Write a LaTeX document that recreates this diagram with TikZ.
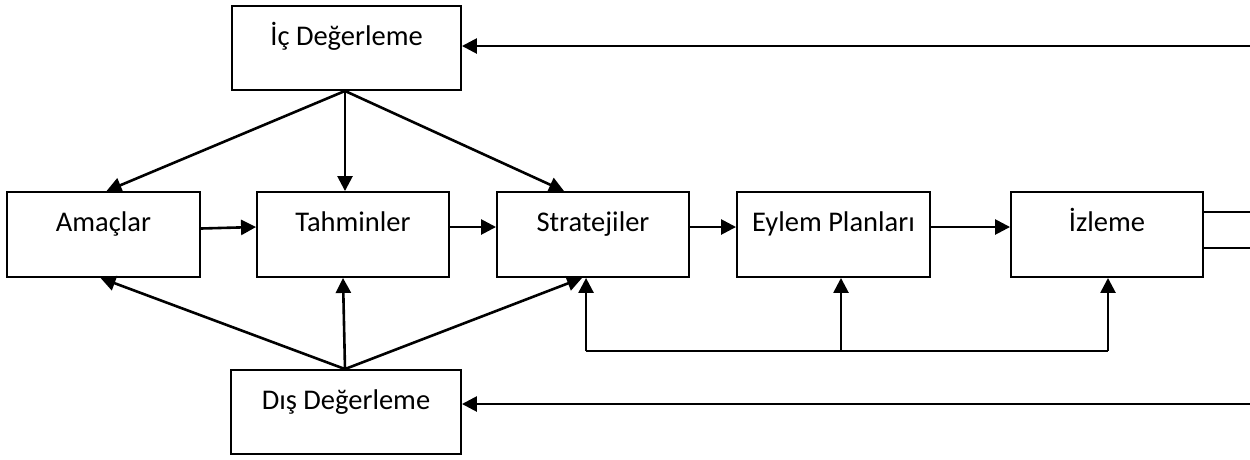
\documentclass[tikz,border=0pt]{standalone}
\usepackage{fontspec}
\setmainfont{Carlito}
\usetikzlibrary{arrows.meta,calc}
\begin{document}
\begin{tikzpicture}[x=1pt,y=-1pt,
  box/.style={draw=black,line width=1.9pt,rectangle,inner sep=0pt,
    minimum height=85pt},
  boxtext/.style={font=\fontsize{28.5}{34}\selectfont,anchor=base,yshift=-40pt,inner sep=0pt},
  arr/.style={line width=2.6pt,-{Triangle[length=15pt,width=15pt]}},
  plain/.style={line width=2.4pt}]
\useasboundingbox (0,0) rectangle (1250,459);
% process boxes
\node[box,minimum width=229pt,minimum height=84pt,label={[boxtext]north:İç Değerleme}] (ic) at (346.5,48) {};
\node[box,minimum width=193pt,label={[boxtext]north:Amaçlar}] (am) at (103.5,234.5) {};
\node[box,minimum width=192pt,label={[boxtext]north:Tahminler}] (ta) at (353,234.5) {};
\node[box,minimum width=192pt,label={[boxtext]north:Stratejiler}] (st) at (593,234.5) {};
\node[box,minimum width=193pt,label={[boxtext]north:Eylem Planları}] (ey) at (833.5,234.5) {};
\node[box,minimum width=192pt,label={[boxtext]north:İzleme}] (iz) at (1107,234.5) {};
\node[box,minimum width=230pt,minimum height=84pt,label={[boxtext]north:Dış Değerleme}] (dis) at (346,412) {};
% helper points
\coordinate (icb) at ($(ic.south)+(-1.5,0)$);
\coordinate (dit) at ($(dis.north)+(-1,0)$);
\coordinate (hy) at (0,227);
\coordinate (stt) at ($(st.north west)+(68,0)$);
\coordinate (stb) at ($(st.south west)+(90,0)$);
\coordinate (eyb) at ($(ey.south)+(7.5,0)$);
\coordinate (izb) at ($(iz.south)+(1,0)$);
\coordinate (fy) at (0,351);
\coordinate (rt) at (1250,46);
\coordinate (rb) at (1250,404);
\coordinate (o1) at (1250,212);
\coordinate (o2) at (1250,248);
% internal evaluation feeds the first three stages
\draw[arr] (icb) -- ($(am.north)+(3,0)$);
\draw[arr] (icb) -- (icb |- ta.north);
\draw[arr] (icb) -- (stt);
% external evaluation feeds the first three stages
\draw[arr] (dit) -- ($(am.south)+(-3,0)$);
\draw[arr] (dit) -- ($(dit |- ta.south)+(-2,0)$);
\draw[arr] (dit) -- ($(stb)+(-4,0)$);
% main chain
\draw[arr] ($(am.east)+(0,-6)$) -- (ta.west |- hy);
\draw[arr] (ta.east |- hy) -- (st.west |- hy);
\draw[arr] (st.east |- hy) -- (ey.west |- hy);
\draw[arr] (ey.east |- hy) -- (iz.west |- hy);
% feedback loop under the chain
\draw[plain] (stb |- fy) -- (izb |- fy);
\draw[arr] (stb |- fy) -- (stb);
\draw[arr] (eyb |- fy) -- (eyb);
\draw[arr] (izb |- fy) -- (izb);
% outputs of monitoring and returns to evaluation
\draw[plain] (iz.east |- o1) -- (o1);
\draw[plain] (iz.east |- o2) -- (o2);
\draw[arr] (rt) -- (rt -| ic.east);
\draw[arr] (rb) -- (rb -| dis.east);
\end{tikzpicture}
\end{document}
